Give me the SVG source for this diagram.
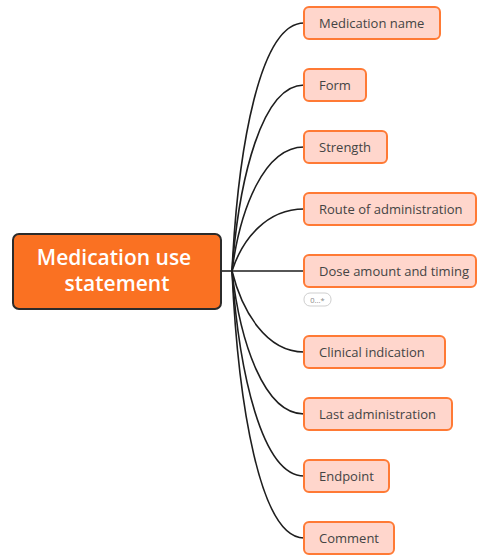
<svg xmlns="http://www.w3.org/2000/svg" width="477" height="558" viewBox="0 0 477 558">
<style>
.child rect{fill:#FFD6CC;stroke:#FF7A35;stroke-width:2}
.child text{font-family:"Open Sans","Liberation Sans",sans-serif;font-size:13px;fill:#444444}
.conn path{fill:none;stroke:#1e1e1e;stroke-width:1.6}
</style>
<rect width="477" height="558" fill="#ffffff"/>
<g id="connectors" class="conn">
<path d="M222,271 L232,271"/>
<path d="M232,271 C238,147 260,23 304,23"/>
<path d="M232,271 C239,178 262,85 304,85"/>
<path d="M232,271 C240,209 264,147 304,147"/>
<path d="M232,271 C242,240 266,209 304,209"/>
<path d="M232,271 L304,271"/>
<path d="M232,271 C242,311 266,352 304,352"/>
<path d="M232,271 C240,342 264,414 304,414"/>
<path d="M232,271 C239,373 262,476 304,476"/>
<path d="M232,271 C238,404 260,538 304,538"/>
</g>
<g id="root">
<rect x="13" y="234" width="208" height="75" rx="6" fill="#FA7122" stroke="#2b2b2b" stroke-width="2"/>
<text x="114" y="265" text-anchor="middle" font-family="'Open Sans','Liberation Sans',sans-serif" font-size="21" font-weight="600" fill="#ffffff">Medication use</text>
<text x="117" y="291" text-anchor="middle" font-family="'Open Sans','Liberation Sans',sans-serif" font-size="21" font-weight="600" fill="#ffffff">statement</text>
</g>
<g id="n1" class="child"><rect x="304" y="7" width="136" height="32" rx="5"/><text x="319" y="28">Medication name</text></g>
<g id="n2" class="child"><rect x="304" y="69" width="62" height="32" rx="5"/><text x="319" y="90">Form</text></g>
<g id="n3" class="child"><rect x="304" y="131" width="83" height="32" rx="5"/><text x="319" y="152">Strength</text></g>
<g id="n4" class="child"><rect x="304" y="193" width="172" height="32" rx="5"/><text x="319" y="214">Route of administration</text></g>
<g id="n5" class="child"><rect x="304" y="255" width="172" height="32" rx="5"/><text x="319" y="276">Dose amount and timing</text></g>
<g id="card">
<rect x="304" y="293" width="27" height="13" rx="6" fill="#ffffff" stroke="#cfcfcf" stroke-width="1"/>
<text x="317.5" y="302.5" text-anchor="middle" font-family="'Open Sans','Liberation Sans',sans-serif" font-size="7.5" fill="#888888">0...*</text>
</g>
<g id="n6" class="child"><rect x="304" y="336" width="141" height="32" rx="5"/><text x="319" y="357">Clinical indication</text></g>
<g id="n7" class="child"><rect x="304" y="398" width="148" height="32" rx="5"/><text x="319" y="419">Last administration</text></g>
<g id="n8" class="child"><rect x="304" y="460" width="85" height="32" rx="5"/><text x="319" y="481">Endpoint</text></g>
<g id="n9" class="child"><rect x="304" y="522" width="90" height="32" rx="5"/><text x="319" y="543">Comment</text></g>
</svg>
